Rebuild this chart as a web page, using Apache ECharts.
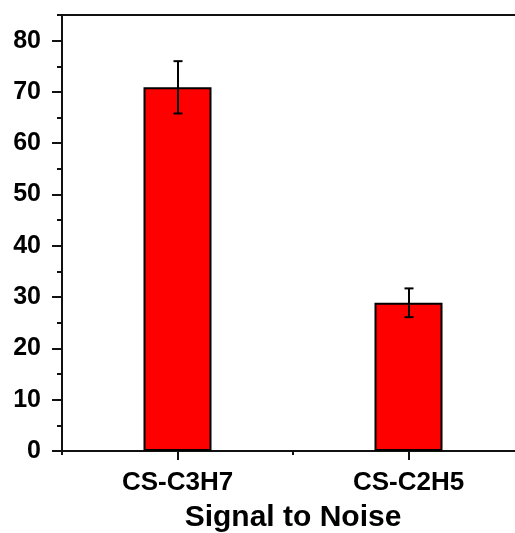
<!DOCTYPE html>
<html>
<head>
<meta charset="utf-8">
<script src="https://cdn.jsdelivr.net/npm/echarts@6/dist/echarts.min.js"></script>
<style>
html,body{margin:0;padding:0;background:#fff;}
#chart{width:515px;height:533px;}
</style>
</head>
<body>
<div id="chart"></div>
<script>
const categories = ['CS-C3H7', 'CS-C2H5'];
const values = [70.9, 28.9];
const errors = [5.1, 2.8];
const yTickValues = [0, 10, 20, 30, 40, 50, 60, 70, 80];
const xAxisTitle = 'Signal to Noise';

const FONT = '"Liberation Sans", Arial, Helvetica, sans-serif';
const INK = '#111';

const chart = echarts.init(document.getElementById('chart'), null, {renderer: 'canvas'});

const errData = categories.map((c, i) => [i, values[i] - errors[i], values[i] + errors[i]]);

const option = {
  animation: false,
  backgroundColor: '#fff',
  grid: {left: 62, right: -9, top: 15, bottom: 82, containLabel: false, outerBoundsMode: 'none'},
  xAxis: [
    {
      type: 'category', data: categories, position: 'bottom',
      axisLine: {show: true, onZero: false, lineStyle: {color: INK, width: 2}},
      axisTick: {show: true, alignWithLabel: true, length: 9, lineStyle: {color: INK, width: 2}},
      axisLabel: {show: true, margin: 19, color: '#000', fontFamily: FONT, fontWeight: 'bold', fontSize: 26},
      splitLine: {show: false},
      name: xAxisTitle, nameLocation: 'middle', nameGap: 52,
      nameTextStyle: {color: '#000', fontFamily: FONT, fontWeight: 'bold', fontSize: 30}
    },
    {
      type: 'category', data: categories, position: 'bottom',
      axisLine: {show: false},
      axisTick: {show: true, alignWithLabel: false, length: 4, lineStyle: {color: INK, width: 2}},
      axisLabel: {show: false}, splitLine: {show: false}
    },
    {
      type: 'category', data: categories, position: 'top',
      axisLine: {show: true, onZero: false, lineStyle: {color: INK, width: 2}},
      axisTick: {show: false}, axisLabel: {show: false}, splitLine: {show: false}
    }
  ],
  yAxis: [
    {
      type: 'value', min: 0, max: 85, interval: 10, position: 'left',
      axisLine: {show: true, onZero: false, lineStyle: {color: INK, width: 2}},
      axisTick: {show: true, length: 10, lineStyle: {color: INK, width: 2},
        customValues: yTickValues},
      axisLabel: {show: true, margin: 21, color: '#000', fontFamily: FONT, fontWeight: 'bold', fontSize: 25,
        padding: [0, 0, 5, 0], customValues: yTickValues},
      splitLine: {show: false}
    },
    {
      type: 'value', min: 0, max: 85, interval: 5, position: 'left',
      axisLine: {show: false},
      axisTick: {show: true, length: 5, lineStyle: {color: INK, width: 2}},
      axisLabel: {show: false}, splitLine: {show: false}
    }
  ],
  series: [
    {
      type: 'bar', xAxisIndex: 0, yAxisIndex: 0,
      data: values, barWidth: 68,
      itemStyle: {color: '#ff0000', borderColor: '#000', borderWidth: 2},
      z: 2
    },
    {
      type: 'custom', xAxisIndex: 0, yAxisIndex: 0,
      data: errData, z: 5,
      renderItem: function (params, api) {
        const x = api.value(0);
        const lo = api.coord([x, api.value(1)]);
        const hi = api.coord([x, api.value(2)]);
        const cx = Math.round(lo[0]);
        const hw = 4.5;
        const st = {stroke: '#000', lineWidth: 2};
        return {
          type: 'group',
          children: [
            {type: 'line', shape: {x1: cx, y1: hi[1], x2: cx, y2: lo[1]}, style: st},
            {type: 'line', shape: {x1: cx - hw, y1: hi[1], x2: cx + hw, y2: hi[1]}, style: st},
            {type: 'line', shape: {x1: cx - hw, y1: lo[1], x2: cx + hw, y2: lo[1]}, style: st}
          ]
        };
      }
    }
  ]
};
chart.setOption(option);
</script>
</body>
</html>
